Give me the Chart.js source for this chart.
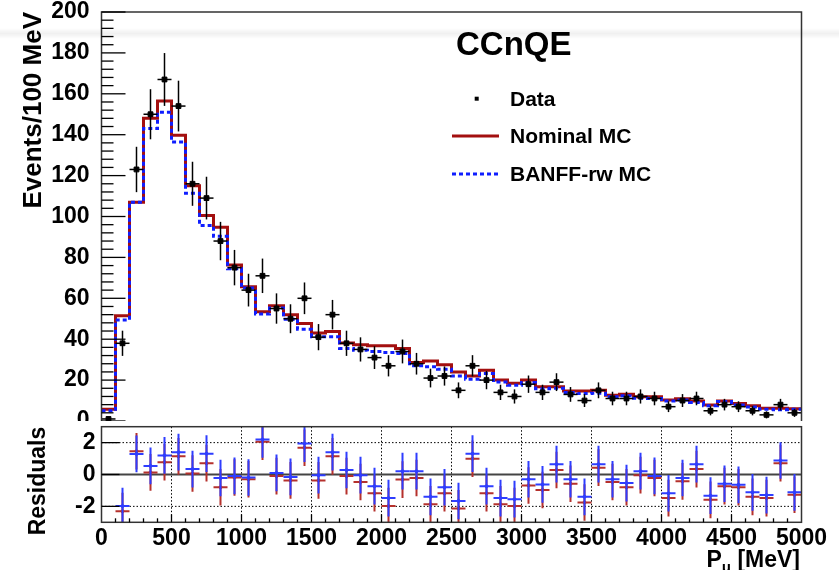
<!DOCTYPE html>
<html>
<head>
<meta charset="utf-8">
<title>CCnQE momentum</title>
<script src="https://cdn.jsdelivr.net/npm/chart.js@4.4.0/dist/chart.umd.min.js"></script>
<style>
  html, body { margin: 0; padding: 0; background: #fff; }
  #wrap { position: relative; width: 839px; height: 570px; overflow: hidden; }
  #main-chart { position: absolute; left: 0; top: 0; }
  #resid-chart { position: absolute; left: 0; top: 421px; }
  .haze {
    position: absolute; left: 0; top: 28px; width: 839px; height: 11px;
    background: linear-gradient(rgba(0,0,0,0), rgba(0,0,0,0.06), rgba(0,0,0,0));
    pointer-events: none;
  }
</style>
</head>
<body>
<div id="wrap">
  <canvas id="main-chart" width="839" height="421"></canvas>
  <canvas id="resid-chart" width="839" height="149"></canvas>
  <div class="haze"></div>
</div>
<script>
// 100 MeV bins from 0 to 5000 MeV
const BIN_WIDTH = 100;
const binEdges = Array.from({ length: 51 }, (_, i) => i * BIN_WIDTH);

// events per bin
const dataCounts = [
  1, 38, 123, 150, 167, 154, 116, 109, 88, 75,
  64, 71, 55, 50, 60, 41, 52, 38, 35, 31,
  27, 34, 28, 21, 22, 15, 27, 20, 14, 12,
  18, 14, 19, 13, 10, 15, 11, 11, 12, 11,
  7, 10, 11, 5, 8, 7, 5, 3, 8, 4,
];
const nominalMC = [
  5.7, 51.5, 107, 148, 156.5, 139.7, 115, 100.5, 94.8, 76.3,
  65.7, 53.4, 56.4, 52, 47.7, 43, 43.8, 38.1, 37.3, 36.8,
  36.8, 35.5, 28.6, 29.4, 27.5, 24, 22, 24.8, 20.1, 18.5,
  20.1, 16.8, 16.8, 14.7, 14.7, 15, 12.6, 13.1, 11.9, 11.9,
  10.3, 10.9, 9.8, 7.8, 9.8, 8.5, 7.4, 6.2, 6.2, 6,
];
const banffMC = [
  5, 49.4, 107, 143, 151, 136.4, 111.4, 95.6, 90.3, 74.4,
  65, 52.3, 55.3, 49.8, 44.9, 41.2, 41.2, 35.5, 34.6, 34,
  33.5, 33, 27, 26.5, 25.3, 22, 20.4, 23.2, 19.1, 17.5,
  18.8, 15.8, 16, 13.9, 13.4, 13.6, 11.8, 12.3, 11.1, 11,
  9.8, 10.3, 9, 7.4, 9.5, 7.8, 6.9, 5.7, 5.5, 5.7,
];

// (data - MC) / sigma, first bin has no entry
const residNominal = [
  null, -2.3, 1.46, 0.13, 0.77, 1.14, 0.06, 0.71, -0.8, -0.19,
  -0.3, 2.06, -0.1, -0.37, 1.68, -0.37, 1.14, -0.1, -0.47, -1.18,
  -1.98, -0.32, -0.22, -1.87, -1.18, -2.13, 0.99, -1.18, -1.87, -1.98,
  -0.69, -0.97, 0.28, -0.58, -1.76, 0.43, -0.47, -0.8, -0.04, -0.22,
  -1.48, -0.43, 0.34, -1.59, -0.73, -0.8, -1.4, -1.48, 0.71, -1.27,
];
const residBanff = [
  null, -1.98, 1.29, 0.54, 1.2, 1.4, 0.34, 1.31, -0.22, -0.09,
  -0.19, 2.2, 0.1, -0.15, 1.94, -0.04, 1.4, 0.28, -0.04, -0.73,
  -1.48, 0.21, 0.21, -1.4, -0.8, -1.66, 1.31, -0.73, -1.48, -1.55,
  -0.3, -0.62, 0.65, -0.3, -1.4, 0.65, -0.3, -0.54, 0.21, -0.09,
  -1.18, -0.22, 0.65, -1.33, -0.58, -0.65, -1.12, -1.29, 0.88, -1.12,
];
const RESID_ERR = 1.15;

const eventTicks = [0, 20, 40, 60, 80, 100, 120, 140, 160, 180, 200];
const residualTicks = [-2, 0, 2];
const momentumTicks = [0, 500, 1000, 1500, 2000, 2500, 3000, 3500, 4000, 4500, 5000];

const colors = {
  nominal: "#a30f0f",
  banff: "#0f1eff",
  residNominal: "#b5312c",
  residBanff: "#2e3dff",
  frame: "#333",
};

const FONT = "'Liberation Sans', Arial, Helvetica, sans-serif";
Chart.defaults.font.family = FONT;
Chart.defaults.font.weight = "bold";
Chart.defaults.color = "#000";

const PLOT_LEFT = 101.5;
const PLOT_RIGHT_PAD = 37.5;

function stepPoints(values) {
  const pts = values.map((v, i) => ({ x: binEdges[i], y: v }));
  pts.push({ x: binEdges[binEdges.length - 1], y: values[values.length - 1] });
  return pts;
}

function centerPoints(values) {
  return values
    .map((v, i) => (v === null ? null : { x: binEdges[i] + BIN_WIDTH / 2, y: v }))
    .filter((p) => p !== null);
}

function fixedTicks(list) {
  return (scale) => {
    scale.ticks = list.map((v) => ({ value: v }));
  };
}

function line(ctx, x1, y1, x2, y2) {
  ctx.beginPath();
  ctx.moveTo(x1, y1);
  ctx.lineTo(x2, y2);
  ctx.stroke();
}

/** ROOT-like frame, inner ticks, data error bars and legend on the top pad */
const mainDecor = {
  id: "mainDecor",
  afterDatasetsDraw(chart) {
    const { ctx, scales: { x, y } } = chart;
    ctx.save();
    ctx.strokeStyle = "#000";
    ctx.lineWidth = 1.5;
    dataCounts.forEach((n, i) => {
      const err = Math.sqrt(n);
      const cx = x.getPixelForValue(binEdges[i] + BIN_WIDTH / 2);
      const cy = y.getPixelForValue(n);
      line(ctx, cx, y.getPixelForValue(n - err), cx, y.getPixelForValue(n + err));
      line(ctx, x.getPixelForValue(binEdges[i]), cy, x.getPixelForValue(binEdges[i + 1]), cy);
    });
    ctx.restore();
  },
  afterDraw(chart) {
    const { ctx, chartArea: a, scales: { y } } = chart;
    ctx.save();
    ctx.strokeStyle = colors.frame;
    ctx.lineWidth = 1.5;
    ctx.beginPath();
    ctx.moveTo(a.left, a.bottom + 2);
    ctx.lineTo(a.left, a.top);
    ctx.lineTo(a.right, a.top);
    ctx.lineTo(a.right, a.bottom + 2);
    ctx.stroke();

    // major ticks every 20, minor every 4
    ctx.strokeStyle = "#000";
    ctx.lineWidth = 1.3;
    for (let v = 0; v <= 200; v += 4) {
      const py = y.getPixelForValue(v);
      const len = v % 20 === 0 ? 24 : 12;
      line(ctx, a.left, py, a.left + len, py);
    }

    // legend
    ctx.fillStyle = "#000";
    ctx.textBaseline = "middle";
    ctx.textAlign = "left";
    ctx.font = `bold 33px ${FONT}`;
    ctx.fillText("CCnQE", 456, 46);

    ctx.font = `bold 21px ${FONT}`;
    ctx.fillRect(474.7, 96.7, 4, 4);
    ctx.fillText("Data", 510, 100);

    ctx.strokeStyle = colors.nominal;
    ctx.lineWidth = 3;
    line(ctx, 452, 136, 499, 136);
    ctx.fillText("Nominal MC", 510, 137);

    ctx.strokeStyle = colors.banff;
    ctx.setLineDash([4, 3]);
    line(ctx, 452, 174, 499, 174);
    ctx.setLineDash([]);
    ctx.fillText("BANFF-rw MC", 510, 175);
    ctx.restore();
  },
};

/** grid, crosses and axis title for the residual pad */
const residDecor = {
  id: "residDecor",
  beforeDatasetsDraw(chart) {
    const { ctx, chartArea: a, scales: { x, y } } = chart;
    ctx.save();
    ctx.strokeStyle = "#000";
    ctx.lineWidth = 1;
    ctx.setLineDash([1.5, 2]);
    momentumTicks.slice(1, -1).forEach((v) => {
      const px = x.getPixelForValue(v);
      line(ctx, px, a.top, px, a.bottom);
    });
    [-2, 2].forEach((v) => {
      const py = y.getPixelForValue(v);
      line(ctx, a.left, py, a.right, py);
    });
    ctx.setLineDash([]);
    ctx.strokeStyle = "#444";
    ctx.lineWidth = 2;
    const y0 = y.getPixelForValue(0);
    line(ctx, a.left, y0, a.right, y0);
    ctx.restore();
  },
  afterDatasetDraw(chart, args) {
    const { ctx, chartArea: a, scales: { x, y } } = chart;
    const ds = chart.data.datasets[args.index];
    ctx.save();
    ctx.beginPath();
    ctx.rect(a.left, a.top, a.right - a.left, a.bottom - a.top);
    ctx.clip();
    ctx.strokeStyle = ds.borderColor;
    ctx.lineWidth = 2;
    ds.data.forEach((p) => {
      const cx = x.getPixelForValue(p.x);
      const cy = y.getPixelForValue(p.y);
      line(ctx, cx, y.getPixelForValue(p.y - RESID_ERR), cx, y.getPixelForValue(p.y + RESID_ERR));
      line(ctx, x.getPixelForValue(p.x - BIN_WIDTH / 2), cy, x.getPixelForValue(p.x + BIN_WIDTH / 2), cy);
    });
    ctx.restore();
  },
  afterDraw(chart) {
    const { ctx, chartArea: a, scales: { x, y } } = chart;
    ctx.save();
    ctx.strokeStyle = colors.frame;
    ctx.lineWidth = 1.5;
    ctx.strokeRect(a.left, a.top, a.right - a.left, a.bottom - a.top);

    ctx.strokeStyle = "#000";
    ctx.lineWidth = 1.3;
    residualTicks.forEach((v) => {
      const py = y.getPixelForValue(v);
      line(ctx, a.left, py, a.left + 18, py);
    });
    for (let v = 100; v < 5000; v += 100) {
      const px = x.getPixelForValue(v);
      const len = v % 500 === 0 ? 8 : 4;
      line(ctx, px, a.bottom, px, a.bottom - len);
    }

    // x title with subscript mu, right-aligned to the frame
    ctx.fillStyle = "#000";
    ctx.textBaseline = "alphabetic";
    ctx.textAlign = "left";
    const base = 146;
    const big = `bold 23px ${FONT}`;
    const small = `bold 15px ${FONT}`;
    ctx.font = big;
    const wP = ctx.measureText("P").width;
    const wTail = ctx.measureText(" [MeV]").width;
    ctx.font = small;
    const wMu = ctx.measureText("\u03bc").width;
    let px = 800 - (wP + wMu + wTail);
    ctx.font = big;
    ctx.fillText("P", px, base);
    px += wP;
    ctx.font = small;
    ctx.fillText("\u03bc", px, base + 5);
    px += wMu;
    ctx.font = big;
    ctx.fillText(" [MeV]", px, base);
    ctx.restore();
  },
};

new Chart(document.getElementById("main-chart"), {
  type: "line",
  data: {
    datasets: [
      {
        type: "scatter",
        label: "Data",
        data: centerPoints(dataCounts),
        pointStyle: "rect",
        pointRadius: 3.4,
        backgroundColor: "#000",
        borderColor: "#000",
        order: 0,
      },
      {
        label: "BANFF-rw MC",
        data: stepPoints(banffMC),
        borderColor: colors.banff,
        borderWidth: 3,
        borderDash: [4, 3],
        stepped: "before",
        pointRadius: 0,
        fill: false,
        order: 1,
      },
      {
        label: "Nominal MC",
        data: stepPoints(nominalMC),
        borderColor: colors.nominal,
        borderWidth: 3,
        stepped: "before",
        pointRadius: 0,
        fill: false,
        order: 2,
      },
    ],
  },
  options: {
    responsive: false,
    animation: false,
    layout: { autoPadding: false, padding: { left: 0, right: PLOT_RIGHT_PAD, top: 12, bottom: 0 } },
    plugins: { legend: { display: false }, tooltip: { enabled: false } },
    scales: {
      x: { type: "linear", min: 0, max: 5000, display: false },
      y: {
        min: 0,
        max: 200,
        afterBuildTicks: fixedTicks(eventTicks),
        afterFit: (s) => {
          s.width = PLOT_LEFT;
          s.paddingTop = 0;
          s.paddingBottom = 0;
        },
        grid: { display: false, drawTicks: false },
        border: { display: false },
        ticks: { padding: 12, color: "#000", font: { size: 23, weight: "bold" } },
        title: {
          display: true,
          text: "Events/100 MeV",
          align: "end",
          color: "#000",
          font: { size: 26, weight: "bold" },
          padding: { top: 18, bottom: 0 },
        },
      },
    },
  },
  plugins: [mainDecor],
});

new Chart(document.getElementById("resid-chart"), {
  type: "scatter",
  data: {
    datasets: [
      {
        label: "BANFF-rw MC",
        data: centerPoints(residBanff),
        borderColor: colors.residBanff,
        backgroundColor: colors.residBanff,
        pointRadius: 1.5,
        order: 0,
      },
      {
        label: "Nominal MC",
        data: centerPoints(residNominal),
        borderColor: colors.residNominal,
        backgroundColor: colors.residNominal,
        pointRadius: 1.5,
        order: 1,
      },
    ],
  },
  options: {
    responsive: false,
    animation: false,
    layout: { autoPadding: false, padding: { left: 0, right: PLOT_RIGHT_PAD, top: 5.7, bottom: 0 } },
    plugins: { legend: { display: false }, tooltip: { enabled: false } },
    scales: {
      x: {
        type: "linear",
        min: 0,
        max: 5000,
        afterBuildTicks: fixedTicks(momentumTicks),
        afterFit: (s) => {
          s.height = 149 - 101.3;
          s.paddingLeft = 0;
          s.paddingRight = 0;
        },
        grid: { display: false, drawTicks: false },
        border: { display: false },
        ticks: {
          padding: 3,
          maxRotation: 0,
          autoSkip: false,
          color: "#000",
          font: { size: 23, weight: "bold" },
          callback: (v) => String(v),
        },
      },
      y: {
        min: -3,
        max: 3,
        afterBuildTicks: fixedTicks(residualTicks),
        afterFit: (s) => {
          s.width = PLOT_LEFT;
          s.paddingTop = 0;
          s.paddingBottom = 0;
        },
        grid: { display: false, drawTicks: false },
        border: { display: false },
        ticks: { padding: 6, color: "#000", font: { size: 23, weight: "bold" } },
        title: {
          display: true,
          text: "Residuals",
          align: "end",
          color: "#000",
          font: { size: 23, weight: "bold" },
          padding: { top: 25, bottom: 0 },
        },
      },
    },
  },
  plugins: [residDecor],
});
</script>
</body>
</html>
